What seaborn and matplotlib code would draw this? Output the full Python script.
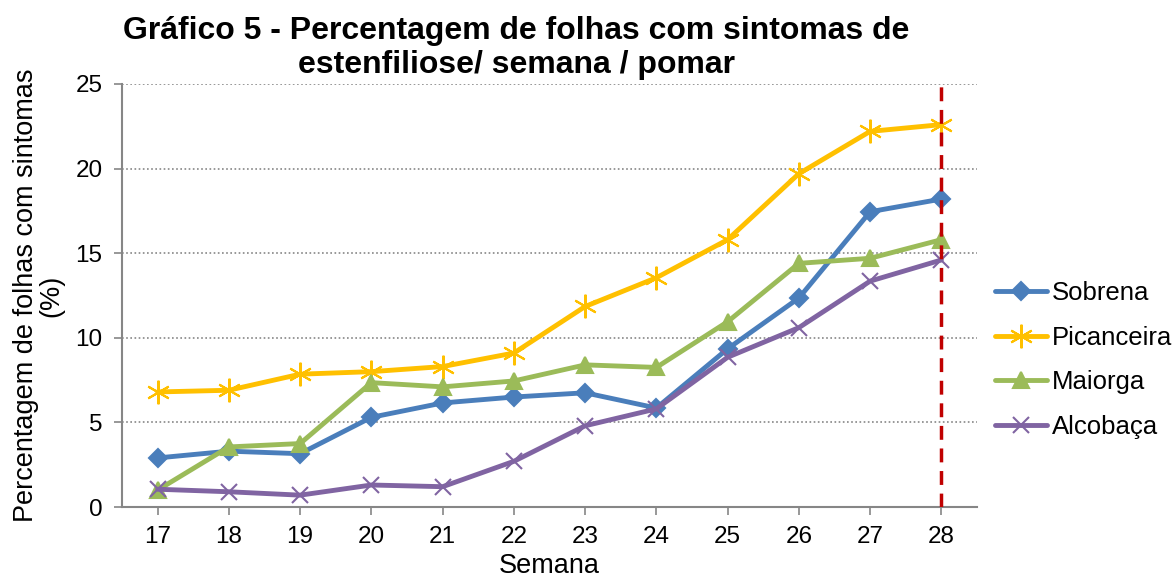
import numpy as np
import pandas as pd
import matplotlib
matplotlib.use("Agg")
import matplotlib.pyplot as plt
import seaborn as sns
from matplotlib.lines import Line2D

# ── Data ──────────────────────────────────────────────────────────────────────
semanas = [17, 18, 19, 20, 21, 22, 23, 24, 25, 26, 27, 28]
sobrena = [2.9, 3.3, 3.15, 5.3, 6.15, 6.5, 6.75, 5.85, 9.35, 12.35, 17.45, 18.2]
picanceira = [6.8, 6.9, 7.85, 8.0, 8.3, 9.1, 11.85, 13.55, 15.8, 19.7, 22.2, 22.6]
maiorga = [1.0, 3.55, 3.75, 7.35, 7.1, 7.45, 8.4, 8.25, 10.95, 14.4, 14.7, 15.8]
alcobaca = [1.05, 0.9, 0.7, 1.3, 1.2, 2.7, 4.8, 5.8, 8.85, 10.6, 13.35, 14.6]

pomares = ["Sobrena", "Picanceira", "Maiorga", "Alcobaça"]
COLORS = ["#4A7EBB", "#FFC000", "#9BBB59", "#8064A2"]
MARKERS = ["D", (6, 2, 0), "^", "x"]
MSIZES = [9, 17, 11, 11]

df = pd.DataFrame({
    "Semana": semanas * 4,
    "valor": sobrena + picanceira + maiorga + alcobaca,
    "Pomar": [p for p in pomares for _ in semanas],
})

sns.set_theme(style="white")
plt.rcParams["font.family"] = ["Liberation Sans", "DejaVu Sans"]
plt.rcParams["text.color"] = "black"
plt.rcParams["axes.labelcolor"] = "black"

fig = plt.figure(figsize=(11.76, 5.78), dpi=100)
ax = fig.add_axes([122 / 1176, 1 - 507 / 578, (977 - 122) / 1176, (507 - 84) / 578])

sns.lineplot(
    data=df, x="Semana", y="valor", hue="Pomar", hue_order=pomares,
    palette=COLORS, linewidth=3.5, ax=ax, legend=False,
)
# markers per series (seaborn won't mix filled and line-art markers)
for line, c, m, s in zip(ax.get_lines(), COLORS, MARKERS, MSIZES):
    line.set_marker(m)
    line.set_markersize(s)
    line.set_markeredgewidth(1.5)
    line.set_markeredgecolor(c)
    line.set_markerfacecolor(c)

# red dashed line at the last week
ax.axvline(semanas[-1], color="#C00000", linestyle=(0, (4, 2.5)), lw=2.5, zorder=5)

ax.set_xlim(semanas[0] - 0.5, semanas[-1] + 0.5)
ax.set_ylim(0, 25)
ax.set_xticks(semanas)
ax.set_yticks([0, 5, 10, 15, 20, 25])
ax.tick_params(axis="both", labelsize=17.5, labelcolor="black", length=6, width=1.2,
               direction="out", left=True, bottom=True, color="#868686")
ax.tick_params(axis="x", pad=8)
ax.tick_params(axis="y", pad=8)

ax.yaxis.grid(True, linestyle=(0, (1, 1.5)), color="#868686", lw=1.2)
ax.xaxis.grid(False)
for side in ["top", "right"]:
    ax.spines[side].set_visible(False)
for side in ["left", "bottom"]:
    ax.spines[side].set_color("#868686")
    ax.spines[side].set_linewidth(1.5)

ax.set_xlabel("Semana", fontsize=19.5, labelpad=3)
ax.set_ylabel("Percentagem de folhas com sintomas\n(%)", fontsize=19.5, labelpad=8,
              linespacing=0.95)

fig.text(516 / 1176, 1 - 48 / 578,
         "Gráfico 5 - Percentagem de folhas com sintomas de\nestenfiliose/ semana / pomar",
         ha="center", va="center", fontsize=23, fontweight="bold", linespacing=1.15)

# legend to the right
handles = [Line2D([0], [0], color=c, marker=m, lw=3.5, markersize=s,
                  markeredgewidth=1.5, markeredgecolor=c, markerfacecolor=c)
           for c, m, s in zip(COLORS, MARKERS, MSIZES)]
fig.legend(handles, pomares, loc="center left", bbox_to_anchor=(972 / 1176, 1 - 360 / 578),
           frameon=False, fontsize=18.5, handlelength=2.0, handletextpad=0.2,
           labelspacing=0.8)

fig.savefig("out.png", dpi=100, facecolor="white")
